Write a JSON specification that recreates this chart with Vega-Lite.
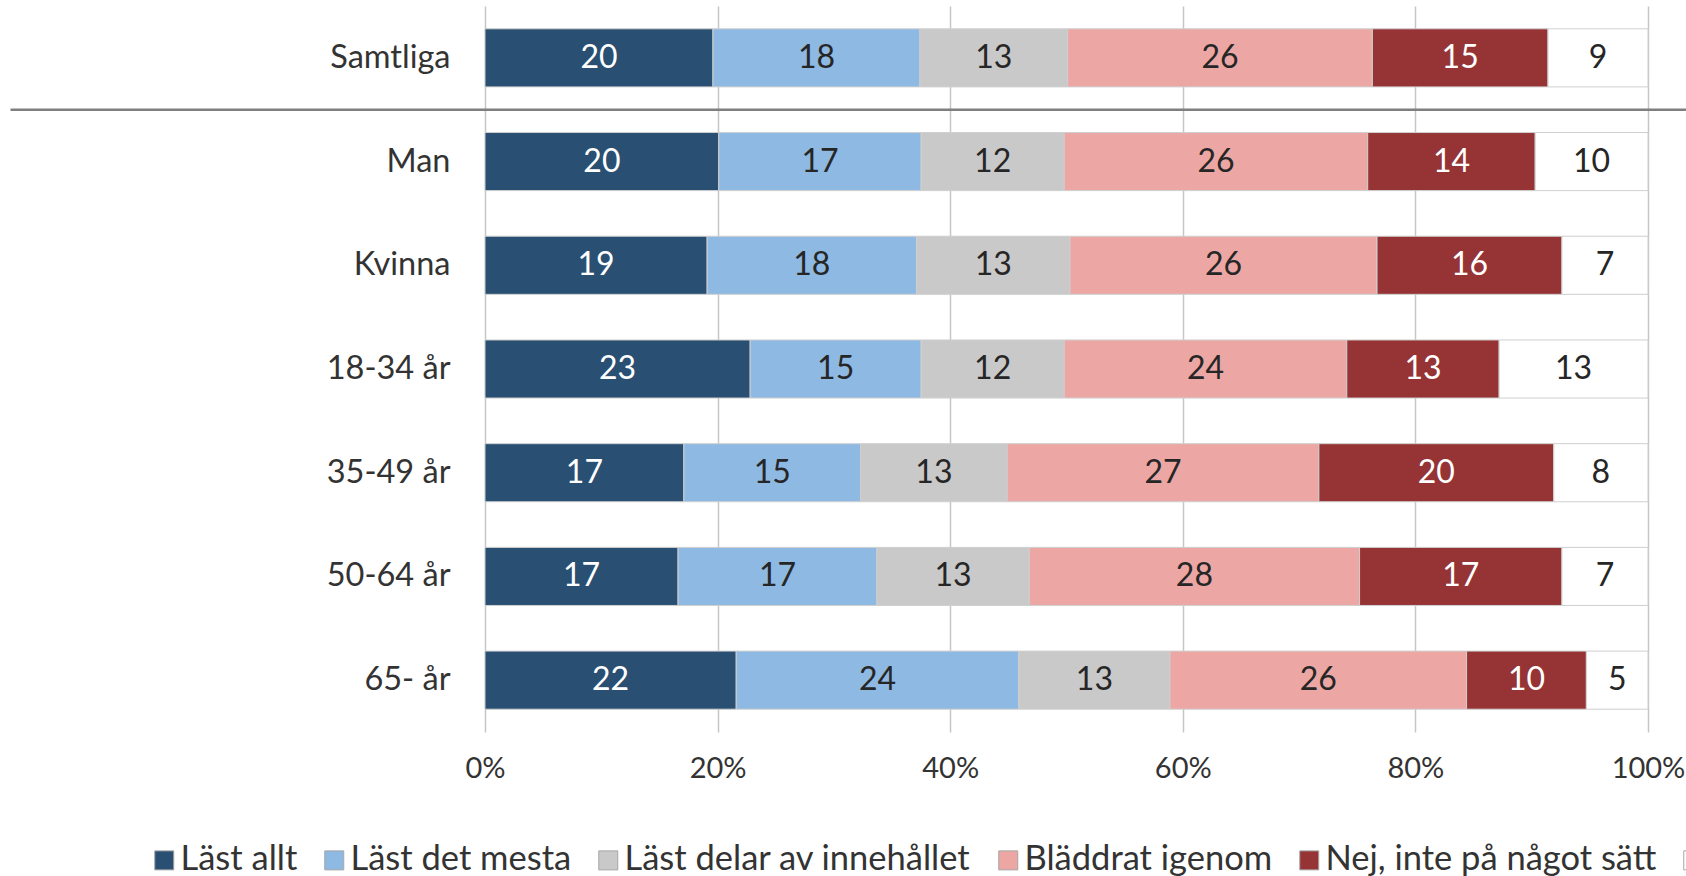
{
  "$schema": "https://vega.github.io/schema/vega-lite/v6.json",
  "width": 1163,
  "height": 726,
  "autosize": {"type": "none"},
  "padding": {"left": 485, "top": 6, "right": 38, "bottom": 144},
  "background": "white",
  "config": {
    "view": {"stroke": null},
    "font": "Lato",
    "scale": {"bandPaddingInner": 0.44, "bandPaddingOuter": 0.22}
  },
  "data": {"values": [
    {"grupp": "Samtliga", "svar": "Läst allt", "v": 19.6},
    {"grupp": "Samtliga", "svar": "Läst det mesta", "v": 17.8},
    {"grupp": "Samtliga", "svar": "Läst delar av innehållet", "v": 12.7},
    {"grupp": "Samtliga", "svar": "Bläddrat igenom", "v": 26.2},
    {"grupp": "Samtliga", "svar": "Nej, inte på något sätt", "v": 15.1},
    {"grupp": "Samtliga", "svar": "Vet ej", "v": 8.6},
    {"grupp": "Man", "svar": "Läst allt", "v": 20.1},
    {"grupp": "Man", "svar": "Läst det mesta", "v": 17.4},
    {"grupp": "Man", "svar": "Läst delar av innehållet", "v": 12.3},
    {"grupp": "Man", "svar": "Bläddrat igenom", "v": 26.1},
    {"grupp": "Man", "svar": "Nej, inte på något sätt", "v": 14.4},
    {"grupp": "Man", "svar": "Vet ej", "v": 9.7},
    {"grupp": "Kvinna", "svar": "Läst allt", "v": 19.1},
    {"grupp": "Kvinna", "svar": "Läst det mesta", "v": 18.0},
    {"grupp": "Kvinna", "svar": "Läst delar av innehållet", "v": 13.2},
    {"grupp": "Kvinna", "svar": "Bläddrat igenom", "v": 26.4},
    {"grupp": "Kvinna", "svar": "Nej, inte på något sätt", "v": 15.9},
    {"grupp": "Kvinna", "svar": "Vet ej", "v": 7.4},
    {"grupp": "18-34 år", "svar": "Läst allt", "v": 22.8},
    {"grupp": "18-34 år", "svar": "Läst det mesta", "v": 14.7},
    {"grupp": "18-34 år", "svar": "Läst delar av innehållet", "v": 12.3},
    {"grupp": "18-34 år", "svar": "Bläddrat igenom", "v": 24.3},
    {"grupp": "18-34 år", "svar": "Nej, inte på något sätt", "v": 13.1},
    {"grupp": "18-34 år", "svar": "Vet ej", "v": 12.8},
    {"grupp": "35-49 år", "svar": "Läst allt", "v": 17.1},
    {"grupp": "35-49 år", "svar": "Läst det mesta", "v": 15.2},
    {"grupp": "35-49 år", "svar": "Läst delar av innehållet", "v": 12.6},
    {"grupp": "35-49 år", "svar": "Bläddrat igenom", "v": 26.8},
    {"grupp": "35-49 år", "svar": "Nej, inte på något sätt", "v": 20.2},
    {"grupp": "35-49 år", "svar": "Vet ej", "v": 8.1},
    {"grupp": "50-64 år", "svar": "Läst allt", "v": 16.6},
    {"grupp": "50-64 år", "svar": "Läst det mesta", "v": 17.1},
    {"grupp": "50-64 år", "svar": "Läst delar av innehållet", "v": 13.1},
    {"grupp": "50-64 år", "svar": "Bläddrat igenom", "v": 28.4},
    {"grupp": "50-64 år", "svar": "Nej, inte på något sätt", "v": 17.4},
    {"grupp": "50-64 år", "svar": "Vet ej", "v": 7.4},
    {"grupp": "65- år", "svar": "Läst allt", "v": 21.6},
    {"grupp": "65- år", "svar": "Läst det mesta", "v": 24.3},
    {"grupp": "65- år", "svar": "Läst delar av innehållet", "v": 13.0},
    {"grupp": "65- år", "svar": "Bläddrat igenom", "v": 25.5},
    {"grupp": "65- år", "svar": "Nej, inte på något sätt", "v": 10.3},
    {"grupp": "65- år", "svar": "Vet ej", "v": 5.3}
  ]},
  "transform": [
    {"calculate": "indexof(['Läst allt','Läst det mesta','Läst delar av innehållet','Bläddrat igenom','Nej, inte på något sätt','Vet ej'], datum.svar)", "as": "ordning"},
    {"stack": "v", "groupby": ["grupp"], "sort": [{"field": "ordning", "order": "ascending"}], "offset": "normalize", "as": ["v0", "v1"]},
    {"calculate": "(datum.v0 + datum.v1) / 2", "as": "mitt"}
  ],
  "layer": [
    {
      "mark": {"type": "bar", "stroke": "#cfcfcf", "strokeWidth": 1},
      "encoding": {
        "y": {"field": "grupp", "type": "nominal",
              "scale": {"domain": ["Samtliga", "Man", "Kvinna", "18-34 år", "35-49 år", "50-64 år", "65- år"]},
              "axis": {"title": null, "ticks": false, "domain": false, "labelFontSize": 32.5, "labelColor": "#333333", "labelPadding": 35, "labelFont": "Lato"}},
        "x": {"field": "v0", "type": "quantitative", "scale": {"domain": [0, 1], "nice": false},
              "axis": {"title": null, "format": "%", "values": [0, 0.2, 0.4, 0.6, 0.8, 1], "grid": true, "gridColor": "#c6c6c6", "gridWidth": 1.5, "ticks": false, "tickSize": 0, "domain": false, "labelFlush": false, "labelFontSize": 29, "labelColor": "#333333", "labelPadding": 22, "labelFont": "Lato"}},
        "x2": {"field": "v1"},
        "color": {"field": "svar", "type": "nominal",
                  "scale": {"domain": ["Läst allt", "Läst det mesta", "Läst delar av innehållet", "Bläddrat igenom", "Nej, inte på något sätt", "Vet ej"],
                            "range": ["#294f72", "#8eb9e3", "#c9c9c9", "#eca7a5", "#963435", "#ffffff"]},
                  "legend": {"title": null, "orient": "none", "legendX": -338, "legendY": 837, "direction": "horizontal", "columns": 6,
                             "symbolType": "square", "symbolSize": 361, "symbolStrokeColor": "#a6a6a6", "symbolStrokeWidth": 1,
                             "labelFontSize": 34.5, "labelFont": "Lato", "labelColor": "#333333", "labelOffset": -1, "columnPadding": 19, "padding": 0, "labelLimit": 600}}
      }
    },
    {
      "mark": {"type": "text", "fontSize": 32, "font": "Lato", "align": "center", "baseline": "middle"},
      "encoding": {
        "y": {"field": "grupp", "type": "nominal"},
        "x": {"field": "mitt", "type": "quantitative"},
        "text": {"field": "v", "type": "quantitative", "format": ".0f"},
        "color": {"condition": {"test": "datum.svar === 'Läst allt' || datum.svar === 'Nej, inte på något sätt'", "value": "#ffffff"}, "value": "#262626"}
      }
    },
    {
      "data": {"values": [{"a": -0.408, "b": 1.04, "g": "Man"}]},
      "mark": {"type": "rule", "color": "#7f7f7f", "strokeWidth": 2.5},
      "encoding": {
        "x": {"field": "a", "type": "quantitative"},
        "x2": {"field": "b"},
        "y": {"field": "g", "type": "nominal", "bandPosition": -0.393}
      }
    }
  ]
}
